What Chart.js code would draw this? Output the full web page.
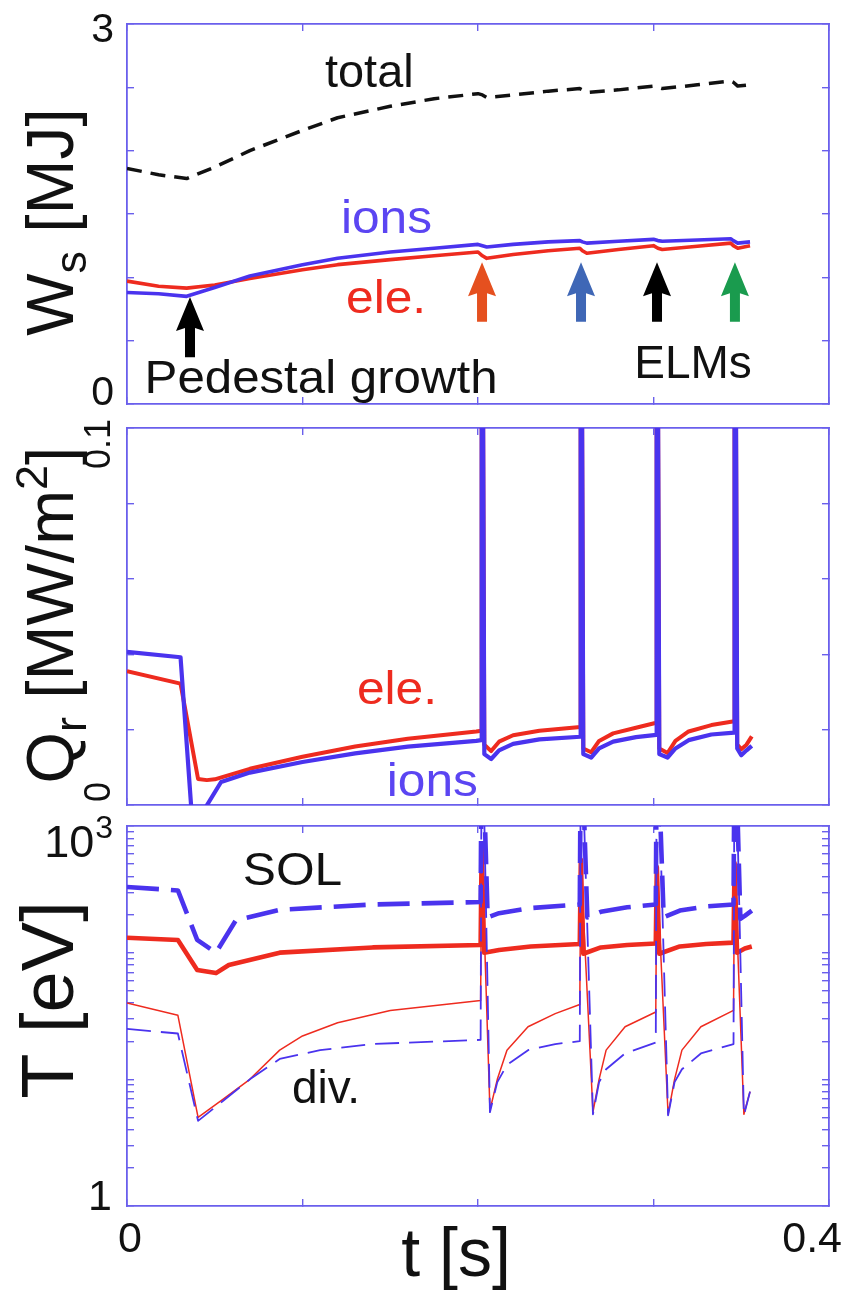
<!DOCTYPE html>
<html><head><meta charset="utf-8">
<script src="https://cdn.jsdelivr.net/npm/chart.js@4/dist/chart.umd.min.js"></script>
<style>
html,body{margin:0;padding:0;background:#fff;}
#wrap{position:relative;width:845px;height:1292px;overflow:hidden;background:#fff;}
canvas{position:absolute;left:0;}
</style></head><body>
<div id="wrap">
<canvas id="c1" width="845" height="420" style="top:0px"></canvas>
<canvas id="c2" width="845" height="412" style="top:408px"></canvas>
<canvas id="c3" width="845" height="480" style="top:812px"></canvas>
</div>
<script>
// ---------------- DATA ----------------
const X_TICKS = [0, 0.1, 0.2, 0.3, 0.4];
const W_TICKS = [0, 0.5, 1, 1.5, 2, 2.5, 3];
const Q_TICKS = [0, 0.02, 0.04, 0.06, 0.08, 0.1];
const T_TICKS = [1,2,3,4,5,6,7,8,9,10,20,30,40,50,60,70,80,90,100,200,300,400,500,600,700,800,900,1000];
const ELM_TIMES = [0.2023, 0.2587, 0.3020, 0.3464];
const PEDESTAL_TIME = 0.0359;

// Panel 1: stored energy W_s [MJ]
const tW     = [0, 0.018, 0.034, 0.05, 0.07, 0.10, 0.12, 0.15, 0.175, 0.200, 0.2025, 0.205, 0.22, 0.24, 0.258, 0.2595, 0.262, 0.28, 0.30, 0.3025, 0.305, 0.325, 0.344, 0.3455, 0.348, 0.355];
const wTotal = [1.86, 1.81, 1.78, 1.87, 2.00, 2.16, 2.26, 2.35, 2.41, 2.45, 2.44, 2.42, 2.44, 2.47, 2.49, 2.48, 2.46, 2.48, 2.51, 2.50, 2.49, 2.52, 2.55, 2.54, 2.51, 2.52];
const wIons  = [0.88, 0.87, 0.85, 0.92, 1.01, 1.10, 1.15, 1.20, 1.23, 1.26, 1.25, 1.24, 1.26, 1.28, 1.29, 1.28, 1.27, 1.285, 1.30, 1.29, 1.285, 1.295, 1.305, 1.29, 1.27, 1.28];
const wEle   = [0.97, 0.93, 0.915, 0.94, 0.99, 1.06, 1.10, 1.14, 1.17, 1.20, 1.17, 1.15, 1.18, 1.21, 1.23, 1.21, 1.19, 1.22, 1.25, 1.23, 1.22, 1.245, 1.27, 1.25, 1.23, 1.25];

// Panel 2: radial heat flux Q_r [MW/m2]
const tQi = [0, 0.0305, 0.0365, 0.041, 0.0456, 0.0536, 0.07, 0.10, 0.13, 0.16, 0.199, 0.2019, 0.2021, 0.2027, 0.2036, 0.2075, 0.212, 0.22, 0.235, 0.2583, 0.2585, 0.2591, 0.2600, 0.2645, 0.269, 0.277, 0.29, 0.3016, 0.3018, 0.3024, 0.3033, 0.3080, 0.3125, 0.320, 0.333, 0.3460, 0.3462, 0.3468, 0.3477, 0.3500, 0.3530, 0.3560];
const qIons = [0.0406, 0.0392, 0.0, -0.005, 0.0, 0.0061, 0.0086, 0.0114, 0.0137, 0.0155, 0.0170, 0.0172, 0.13, 0.13, 0.0135, 0.0122, 0.0145, 0.0162, 0.0174, 0.0181, 0.13, 0.13, 0.0135, 0.0126, 0.0150, 0.0168, 0.0180, 0.0186, 0.13, 0.13, 0.0135, 0.0126, 0.0150, 0.0172, 0.0187, 0.0192, 0.13, 0.13, 0.0150, 0.0132, 0.0145, 0.0157];
const tQe = [0, 0.0305, 0.0405, 0.0455, 0.05, 0.07, 0.10, 0.13, 0.16, 0.199, 0.2019, 0.2021, 0.2027, 0.2036, 0.2075, 0.212, 0.22, 0.235, 0.2583, 0.2585, 0.2591, 0.2600, 0.2645, 0.269, 0.277, 0.29, 0.3016, 0.3018, 0.3024, 0.3033, 0.3080, 0.3125, 0.320, 0.333, 0.3460, 0.3462, 0.3468, 0.3477, 0.3500, 0.3530, 0.3560];
const qEle = [0.0355, 0.0322, 0.0069, 0.0066, 0.0068, 0.0096, 0.0128, 0.0155, 0.0176, 0.0195, 0.0197, 0.13, 0.13, 0.0160, 0.0143, 0.0168, 0.0185, 0.0197, 0.0207, 0.13, 0.13, 0.0150, 0.0140, 0.0170, 0.0190, 0.0205, 0.0218, 0.13, 0.13, 0.0150, 0.0138, 0.0170, 0.0195, 0.0212, 0.0222, 0.13, 0.13, 0.0160, 0.0148, 0.0160, 0.0182];

// Panel 3: temperatures T [eV]
const tSolI = [0, 0.029, 0.040, 0.0507, 0.062, 0.087, 0.14, 0.2015, 0.2020, 0.2030, 0.2055, 0.212, 0.23, 0.2580, 0.2585, 0.2595, 0.2623, 0.27, 0.285, 0.3013, 0.3018, 0.3028, 0.3058, 0.315, 0.33, 0.3456, 0.3461, 0.3471, 0.3495, 0.352, 0.356];
const solIons = [330, 310, 126, 100, 180, 218, 240, 251, 3000, 3000, 190, 205, 225, 240, 3000, 3000, 190, 210, 228, 240, 3000, 3000, 190, 215, 232, 240, 3000, 3000, 185, 195, 215];
const tSolE = [0, 0.029, 0.040, 0.0507, 0.058, 0.087, 0.14, 0.2015, 0.2021, 0.2035, 0.212, 0.23, 0.2580, 0.2586, 0.2600, 0.27, 0.285, 0.3013, 0.3019, 0.3033, 0.315, 0.33, 0.3456, 0.3462, 0.3476, 0.352, 0.356];
const solEle = [131, 126, 73, 69, 80, 100, 110, 115, 680, 100, 105, 112, 117, 540, 98, 110, 115, 118, 475, 98, 112, 117, 120, 510, 100, 108, 112];
const tDivE = [0, 0.029, 0.0405, 0.055, 0.07, 0.087, 0.10, 0.12, 0.15, 0.2015, 0.2021, 0.2068, 0.211, 0.2165, 0.2285, 0.244, 0.2580, 0.2586, 0.2655, 0.269, 0.273, 0.2838, 0.3013, 0.3019, 0.3083, 0.312, 0.3162, 0.327, 0.3456, 0.3462, 0.3515, 0.3550];
const divEle = [40, 32, 5.0, 7.0, 10, 17, 22, 28, 35, 42, 650, 5.7, 10, 17, 26, 33, 39, 520, 5.5, 10, 17, 26, 34, 470, 5.3, 10, 17, 26, 35, 500, 5.3, 8];
const tDivI = [0, 0.029, 0.0405, 0.055, 0.07, 0.087, 0.11, 0.14, 0.2015, 0.2020, 0.2030, 0.2068, 0.211, 0.2165, 0.2285, 0.244, 0.2580, 0.2585, 0.2595, 0.2655, 0.269, 0.273, 0.2838, 0.3013, 0.3018, 0.3028, 0.3083, 0.312, 0.3162, 0.327, 0.3456, 0.3461, 0.3471, 0.3515, 0.3550];
const divIons = [25, 23, 4.7, 6.8, 10, 14.5, 17, 19, 20.5, 3000, 3000, 5.5, 9.5, 13, 17, 19, 20, 3000, 3000, 5.3, 9.5, 12, 16, 19.5, 3000, 3000, 5.2, 9.5, 12, 16, 19, 3000, 3000, 5.2, 8];

// ---------------- STYLE ----------------
const AX = '#6a5fec', BLUE = '#4a33ee', RED = '#ee2b1f', TXT = '#111';
const FONT = '"Liberation Sans", Arial, Helvetica, sans-serif';

function pts(ts, vs){ return ts.map((t,i)=>({x:t, y:vs[i]})); }

function scalesFor(yType, yMin, yMax, yTicks, m){
  const xt = s => { s.ticks = X_TICKS.map(v=>({value:v})); };
  const yt = s => { s.ticks = yTicks.map(v=>({value:v})); };
  const grid = {drawOnChartArea:false, drawTicks:true, tickLength:-7, color:AX, tickColor:AX, tickWidth:1.4, lineWidth:1.4};
  const border = {display:true, color:AX, width:1.8};
  return {
    x:  {type:'linear', position:'bottom', min:0, max:0.4, afterBuildTicks:xt, ticks:{display:false}, grid, border, afterFit:s=>{s.height=m.bottom;}},
    x2: {type:'linear', axis:'x', position:'top', min:0, max:0.4, afterBuildTicks:xt, ticks:{display:false}, grid, border, afterFit:s=>{s.height=m.top;}},
    y:  {type:yType, position:'left', min:yMin, max:yMax, afterBuildTicks:yt, ticks:{display:false}, grid, border, afterFit:s=>{s.width=127;}},
    y2: {type:yType, axis:'y', position:'right', min:yMin, max:yMax, afterBuildTicks:yt, ticks:{display:false}, grid, border, afterFit:s=>{s.width=16;}}
  };
}

function line(label, data, color, width, dash){
  return {label, data, borderColor:color, backgroundColor:color, borderWidth:width, borderDash:dash||[],
          pointRadius:0, tension:0, fill:false, clip:0, borderJoinStyle:'round', borderCapStyle:'butt'};
}

function text(ctx, s, x, y, o){
  o = o||{};
  ctx.save();
  ctx.translate(x, y);
  ctx.scale(o.sx||1, 1);
  if (o.rot) ctx.rotate(o.rot);
  ctx.font = (o.size||40)+'px '+FONT;
  ctx.fillStyle = o.color||TXT;
  ctx.textAlign = o.align||'left';
  ctx.textBaseline = o.base||'alphabetic';
  ctx.fillText(s, 0, 0);
  ctx.restore();
}

// rich rotated title: segments with optional sub/sup
function title(ctx, segs, cx, cy, size, sx){
  ctx.save();
  ctx.translate(cx, cy);
  ctx.scale(sx||1, 1);
  ctx.rotate(-Math.PI/2);
  ctx.fillStyle = TXT; ctx.textBaseline='alphabetic'; ctx.textAlign='left';
  let total = 0;
  const parts = segs.map(sg=>{
    const fs = (sg.sub||sg.sup) ? size*0.68 : size;
    ctx.font = fs+'px '+FONT;
    const w = ctx.measureText(sg.t).width;
    total += w; return {sg, fs, w};
  });
  let x = -total/2;
  parts.forEach(p=>{
    ctx.font = p.fs+'px '+FONT;
    const dy = p.sg.sub ? size*0.2 : (p.sg.sup ? -size*0.4 : 0);
    ctx.fillText(p.sg.t, x, dy);
    x += p.w;
  });
  ctx.restore();
}

function arrow(ctx, x, yTip, yTail, color){
  const hw = 14, hh = 34, sw = 5;
  ctx.save();
  ctx.fillStyle = color;
  ctx.beginPath();
  ctx.moveTo(x, yTip);
  ctx.lineTo(x+hw, yTip+hh);
  ctx.lineTo(x+sw, yTip+hh-3);
  ctx.lineTo(x+sw, yTail);
  ctx.lineTo(x-sw, yTail);
  ctx.lineTo(x-sw, yTip+hh-3);
  ctx.lineTo(x-hw, yTip+hh);
  ctx.closePath();
  ctx.fill();
  ctx.restore();
}

const baseOptions = {responsive:false, animation:false, events:[], devicePixelRatio:1,
  layout:{padding:0},
  plugins:{legend:{display:false}, tooltip:{enabled:false}, title:{display:false}}};

function makeChart(id, datasets, scales, plugin){
  return new Chart(document.getElementById(id), {
    type:'line',
    data:{datasets},
    options:Object.assign({}, baseOptions, {scales}),
    plugins:[plugin]
  });
}

const AF = 46;   // annotation font size

// ---------------- PANEL 1 ----------------
makeChart('c1', [
  line('ions', pts(tW, wIons), BLUE, 3.6),
  line('ele.', pts(tW, wEle), RED, 3.6),
  line('total', pts(tW, wTotal), '#111', 3.5, [15, 9])
], scalesFor('linear', 0, 3, W_TICKS, {top:24, bottom:16}), {
  id:'p1', afterDraw(chart){
    const {ctx, scales:{x, y}} = chart;
    const px = t => x.getPixelForValue(t), py = v => y.getPixelForValue(v);
    text(ctx, 'total', px(0.1128), py(2.50), {size:AF, sx:1.02});
    text(ctx, 'ions', px(0.1219), py(1.35), {size:AF, sx:1.08, color:'#5b45f2'});
    text(ctx, 'ele.', px(0.1248), py(0.72), {size:AF, sx:1.08, color:RED});
    text(ctx, 'Pedestal growth', px(0.0100), py(0.085), {size:AF, sx:1.07});
    text(ctx, 'ELMs', px(0.289), py(0.205), {size:AF, sx:1.0});
    arrow(ctx, px(PEDESTAL_TIME), py(0.845), py(0.37), '#000');
    const cols = ['#e5501f', '#3f67b6', '#000000', '#1a9b4e'];
    ELM_TIMES.forEach((t,i)=> arrow(ctx, px(t), py(1.12), py(0.65), cols[i]));
    // tick labels
    text(ctx, '3', 114, py(3)+7, {size:41, align:'right', base:'middle'});
    text(ctx, '0', 114, py(0)-10, {size:41, align:'right', base:'middle'});
    title(ctx, [{t:'W'},{t:'s',sub:true},{t:' [MJ]'}], 73, 222, 66, 1);
  }
});

// ---------------- PANEL 2 ----------------
makeChart('c2', [
  line('ions', pts(tQi, qIons), BLUE, 4.2),
  line('ele.', pts(tQe, qEle), RED, 4)
], scalesFor('linear', 0, 0.1, Q_TICKS, {top:20, bottom:15}), {
  id:'p2', afterDraw(chart){
    const {ctx, scales:{x, y}} = chart;
    const px = t => x.getPixelForValue(t), py = v => y.getPixelForValue(v);
    text(ctx, 'ele.', px(0.131), py(0.0268), {size:AF, sx:1.08, color:RED});
    text(ctx, 'ions', px(0.148), py(0.0024), {size:AF, sx:1.08, color:'#5b45f2'});
    text(ctx, '0.1', 110, py(0.1)+16, {size:36, align:'center', rot:-Math.PI/2});
    text(ctx, '0', 110, py(0)-13, {size:36, align:'center', rot:-Math.PI/2});
    title(ctx, [{t:'Q'},{t:'r',sub:true},{t:' [MW/m'},{t:'2',sup:true},{t:']'}], 73, 615-408, 66, 1);
  }
});

// ---------------- PANEL 3 ----------------
makeChart('c3', [
  line('SOL ions', pts(tSolI, solIons), BLUE, 4.6, [32, 12]),
  line('div ions', pts(tDivI, divIons), BLUE, 1.8, [24, 10]),
  line('SOL ele', pts(tSolE, solEle), RED, 4.6),
  line('div ele', pts(tDivE, divEle), RED, 1.5)
], scalesFor('logarithmic', 1, 1000, T_TICKS, {top:14, bottom:86}), {
  id:'p3', afterDraw(chart){
    const {ctx, scales:{x, y}} = chart;
    const px = t => x.getPixelForValue(t), py = v => y.getPixelForValue(v);
    text(ctx, 'SOL', px(0.066), py(342), {size:AF, sx:1.08});
    text(ctx, 'div.', px(0.094), py(6.5), {size:AF, sx:1.0});
    // y tick labels
    text(ctx, '3', 113, py(1000)+12, {size:32, align:'right'});
    ctx.save(); ctx.font = '32px '+FONT; const w3 = ctx.measureText('3').width; ctx.restore();
    text(ctx, '10', 112 - w3, py(1000)+31, {size:45, align:'right'});
    text(ctx, '1', 112, py(1)+4, {size:43, align:'right'});
    // x tick labels
    text(ctx, '0', px(0)+3, py(1)+46, {size:43, align:'center'});
    text(ctx, '0.4', 842, py(1)+46, {size:43, align:'right'});
    text(ctx, 't [s]', 456, py(1)+70, {size:68, align:'center'});
    title(ctx, [{t:'T [eV]'}], 73, 1000-812, 74, 1);
  }
});
</script>
</body></html>
